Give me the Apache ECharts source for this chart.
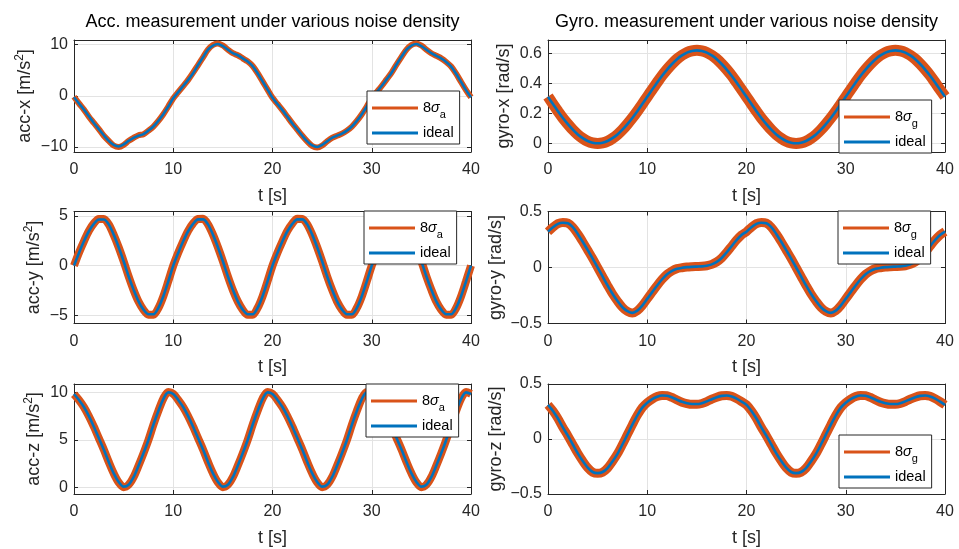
<!DOCTYPE html>
<html>
<head>
<meta charset="utf-8">
<script src="https://cdn.jsdelivr.net/npm/echarts@6/dist/echarts.min.js"></script>
<style>html,body{margin:0;padding:0;background:#fff}#c{width:959px;height:549px}</style>
</head>
<body>
<div id="c"></div>
<script>
// ---------- data ----------
const time = [0,0.5,1,1.5,2,2.5,3,3.5,4,4.5,5,5.5,6,6.5,7,7.5,8,8.5,9,9.5,10,10.5,11,11.5,12,12.5,13,13.5,14,14.5,15,15.5,16,16.5,17,17.5,18,18.5,19,19.5,20,20.5,21,21.5,22,22.5,23,23.5,24,24.5,25,25.5,26,26.5,27,27.5,28,28.5,29,29.5,30,30.5,31,31.5,32,32.5,33,33.5,34,34.5,35,35.5,36,36.5,37,37.5,38,38.5,39,39.5,40];

const accXIdeal = [-0.3,-1.5,-2.7,-4.0,-5.3,-6.5,-7.7,-8.8,-9.6,-9.9,-9.5,-8.8,-8.2,-7.8,-7.5,-6.8,-6.0,-4.9,-3.6,-2.1,-0.5,0.7,1.9,3.1,4.4,6.0,7.5,9.0,9.8,10.1,9.7,9.0,8.3,7.9,7.3,6.7,5.8,4.4,2.8,1.2,-0.4,
 -1.6,-2.8,-4.1,-5.4,-6.6,-7.8,-8.9,-9.7,-10.0,-9.6,-8.9,-8.2,-7.8,-7.4,-6.8,-6.0,-4.9,-3.6,-2.1,-0.5,0.7,1.9,3.2,4.5,6.1,7.6,9.0,9.8,10.1,9.7,9.0,8.3,7.8,7.3,6.6,5.7,4.3,2.7,1.1,-0.3];
const accXNoisy = [-0.2,-1.5,-2.7,-4.1,-5.3,-6.5,-7.8,-8.8,-9.7,-10.0,-9.6,-8.8,-8.2,-7.7,-7.5,-6.8,-6.0,-4.9,-3.6,-2.1,-0.5,0.7,1.9,3.1,4.5,6.0,7.5,9.0,9.9,10.2,9.8,9.0,8.3,7.9,7.3,6.7,5.8,4.4,2.8,1.2,-0.4,
 -1.6,-2.8,-4.1,-5.4,-6.6,-7.8,-8.9,-9.8,-10.1,-9.7,-8.9,-8.2,-7.8,-7.4,-6.8,-6.0,-4.9,-3.6,-2.1,-0.5,0.7,1.9,3.2,4.5,6.1,7.6,9.0,9.9,10.2,9.8,9.0,8.3,7.8,7.3,6.6,5.7,4.3,2.7,1.1,-0.3];

const accYIdeal = [0,1.28,2.45,3.46,4.2,4.65,4.65,4.15,3.12,1.85,0.44,-1.07,-2.42,-3.6,-4.43,-4.9,-4.9,-4.26,-3.09,-1.58,0,
 1.28,2.45,3.46,4.2,4.66,4.66,4.15,3.12,1.85,0.44,-1.07,-2.42,-3.6,-4.43,-4.9,-4.9,-4.26,-3.09,-1.58,0,
 1.28,2.45,3.46,4.2,4.66,4.66,4.15,3.12,1.85,0.44,-1.07,-2.42,-3.6,-4.43,-4.9,-4.9,-4.26,-3.09,-1.58,0,
 1.28,2.45,3.46,4.2,4.65,4.65,4.15,3.12,1.85,0.44,-1.07,-2.42,-3.6,-4.43,-4.9,-4.9,-4.26,-3.09,-1.58,0];
const accYNoisy = [0,1.3,2.45,3.5,4.25,4.7,4.7,4.15,3.1,1.85,0.44,-1.07,-2.45,-3.62,-4.45,-4.95,-4.95,-4.28,-3.09,-1.58,0,
 1.3,2.45,3.5,4.25,4.7,4.72,4.15,3.12,1.85,0.44,-1.07,-2.45,-3.6,-4.45,-4.95,-4.95,-4.26,-3.09,-1.58,0,
 1.3,2.45,3.5,4.25,4.72,4.7,4.15,3.12,1.85,0.44,-1.07,-2.42,-3.6,-4.45,-4.95,-4.95,-4.26,-3.09,-1.58,0,
 1.3,2.45,3.5,4.25,4.7,4.7,4.15,3.12,1.85,0.44,-1.07,-2.42,-3.62,-4.45,-4.95,-4.95,-4.28,-3.09,-1.58,0];

const accZIdeal = [9.83,9.2,8.46,7.5,6.4,5.2,4.0,2.7,1.5,0.6,0.1,0.3,1.1,2.3,3.6,5.0,6.6,8.05,9.3,10.0,9.83,
 9.2,8.46,7.5,6.4,5.2,4.0,2.7,1.5,0.6,0.1,0.3,1.1,2.3,3.6,5.0,6.6,8.05,9.3,10.0,9.83,
 9.2,8.46,7.5,6.4,5.2,4.0,2.7,1.5,0.6,0.1,0.3,1.1,2.3,3.6,5.0,6.6,8.05,9.3,10.0,9.83,
 9.2,8.46,7.5,6.4,5.2,4.0,2.7,1.5,0.6,0.1,0.3,1.1,2.3,3.6,5.0,6.6,8.05,9.3,10.0,9.83];
const accZNoisy = [9.8,9.2,8.45,7.5,6.4,5.2,4.0,2.7,1.5,0.55,0.05,0.3,1.1,2.3,3.6,5.0,6.6,8.05,9.35,10.05,9.85,
 9.2,8.45,7.5,6.4,5.2,4.0,2.7,1.5,0.55,0.05,0.3,1.1,2.3,3.6,5.0,6.6,8.05,9.35,10.05,9.85,
 9.2,8.45,7.5,6.4,5.2,4.0,2.7,1.5,0.55,0.05,0.3,1.1,2.3,3.6,5.0,6.6,8.05,9.35,10.05,9.85,
 9.2,8.45,7.5,6.4,5.2,4.0,2.7,1.5,0.55,0.05,0.3,1.1,2.3,3.6,5.0,6.6,8.05,9.35,10.05,9.85];

const gyroXIdeal = [0.31,0.262,0.214,0.169,0.128,0.091,0.059,0.034,0.015,0.004,0,0.004,0.015,0.034,0.059,0.091,0.128,0.169,0.214,0.262,0.31,0.358,0.406,0.451,0.492,0.529,0.561,0.586,0.605,0.616,0.62,0.616,0.605,0.586,0.561,0.529,0.492,0.451,0.406,0.358,0.31,
 0.262,0.214,0.169,0.128,0.091,0.059,0.034,0.015,0.004,0,0.004,0.015,0.034,0.059,0.091,0.128,0.169,0.214,0.262,0.31,0.358,0.406,0.451,0.492,0.529,0.561,0.586,0.605,0.616,0.62,0.616,0.605,0.586,0.561,0.529,0.492,0.451,0.406,0.358,0.31];
const gyroXNoisy = [0.312,0.262,0.214,0.168,0.128,0.09,0.058,0.033,0.014,0.003,-0.001,0.003,0.014,0.033,0.058,0.09,0.128,0.169,0.214,0.262,0.31,0.358,0.406,0.452,0.493,0.53,0.562,0.587,0.606,0.617,0.621,0.617,0.606,0.587,0.562,0.53,0.493,0.452,0.406,0.358,0.31,
 0.262,0.214,0.168,0.128,0.09,0.058,0.033,0.014,0.003,-0.001,0.003,0.014,0.033,0.058,0.09,0.128,0.169,0.214,0.262,0.31,0.358,0.406,0.452,0.493,0.53,0.562,0.587,0.606,0.617,0.621,0.617,0.606,0.587,0.562,0.53,0.493,0.452,0.406,0.358,0.312];

const gyroYIdeal = [0.32,0.36,0.39,0.40,0.395,0.36,0.30,0.23,0.155,0.08,0.0,-0.08,-0.16,-0.235,-0.30,-0.355,-0.39,-0.405,-0.385,-0.34,-0.28,-0.22,-0.16,-0.105,-0.06,-0.03,-0.012,-0.003,0.003,0.006,0.008,0.01,0.015,0.028,0.05,0.085,0.135,0.19,0.245,0.29,0.32,
 0.36,0.39,0.40,0.395,0.36,0.30,0.23,0.155,0.08,0.0,-0.08,-0.16,-0.235,-0.30,-0.355,-0.39,-0.405,-0.385,-0.34,-0.28,-0.22,-0.16,-0.105,-0.06,-0.03,-0.012,-0.003,0.003,0.006,0.008,0.01,0.015,0.028,0.05,0.085,0.135,0.19,0.245,0.29,0.32];
const gyroYNoisy = [0.32,0.36,0.392,0.402,0.396,0.36,0.30,0.23,0.155,0.08,0.0,-0.08,-0.16,-0.236,-0.30,-0.356,-0.392,-0.407,-0.386,-0.34,-0.28,-0.22,-0.16,-0.105,-0.06,-0.03,-0.01,-0.002,0.004,0.007,0.009,0.011,0.016,0.028,0.05,0.085,0.135,0.19,0.245,0.29,0.32,
 0.36,0.392,0.402,0.396,0.36,0.30,0.23,0.155,0.08,0.0,-0.08,-0.16,-0.236,-0.30,-0.356,-0.392,-0.407,-0.386,-0.34,-0.28,-0.22,-0.16,-0.105,-0.06,-0.03,-0.01,-0.002,0.004,0.007,0.009,0.011,0.016,0.028,0.05,0.085,0.135,0.19,0.245,0.29,0.32];

const gyroZIdeal = [0.31,0.255,0.186,0.105,0.03,-0.05,-0.13,-0.2,-0.26,-0.3,-0.31,-0.3,-0.264,-0.204,-0.135,-0.05,0.04,0.13,0.215,0.285,0.33,0.363,0.385,0.395,0.393,0.378,0.357,0.338,0.325,0.318,0.318,0.326,0.342,0.362,0.38,0.392,0.395,0.387,0.367,0.34,0.31,
 0.255,0.186,0.105,0.03,-0.05,-0.13,-0.2,-0.26,-0.3,-0.31,-0.3,-0.264,-0.204,-0.135,-0.05,0.04,0.13,0.215,0.285,0.33,0.363,0.385,0.395,0.393,0.378,0.357,0.338,0.325,0.318,0.318,0.326,0.342,0.362,0.38,0.392,0.395,0.387,0.367,0.34,0.31];
const gyroZNoisy = [0.31,0.255,0.186,0.105,0.03,-0.05,-0.13,-0.2,-0.262,-0.302,-0.312,-0.302,-0.265,-0.204,-0.135,-0.05,0.04,0.13,0.215,0.285,0.33,0.363,0.386,0.396,0.394,0.378,0.355,0.335,0.322,0.315,0.315,0.323,0.34,0.362,0.38,0.393,0.396,0.388,0.367,0.34,0.31,
 0.255,0.186,0.105,0.03,-0.05,-0.13,-0.2,-0.262,-0.302,-0.312,-0.302,-0.265,-0.204,-0.135,-0.05,0.04,0.13,0.215,0.285,0.33,0.363,0.386,0.396,0.394,0.378,0.355,0.335,0.322,0.315,0.315,0.323,0.34,0.362,0.38,0.393,0.396,0.388,0.367,0.34,0.31];

const xTicks = [0,10,20,30,40];
const accXTicks = [-10,0,10];
const accYTicks = [-5,0,5];
const accZTicks = [0,5,10];
const gyroXTicks = [0,0.2,0.4,0.6];
const gyroYTicks = [-0.5,0,0.5];
const gyroZTicks = [-0.5,0,0.5];

const titles = ['Acc. measurement under various noise density', 'Gyro. measurement under various noise density'];
const yNames = ['acc-x [m/s{sup|2}]','gyro-x [rad/s]','acc-y [m/s{sup|2}]','gyro-y [rad/s]','acc-z [m/s{sup|2}]','gyro-z [rad/s]'];
const xName = 't [s]';
const legendLabels = {acc8: '8{s|σ}{b|a}', accIdeal: 'ideal', gyro8: '8{s|σ}{b|g}', gyroIdeal: 'ideal'};

// ---------- layout / styles ----------
const FONT = '"Liberation Sans", Arial, Helvetica, sans-serif';
const AX = '#262626';
const ORANGE = '#D95319';
const BLUE = '#0072BD';
const GRIDC = '#e3e3e3';

const plots = [
  {left:74,  top:40,    ymin:-10.97, ymax:10.88, ticks:accXTicks,  ideal:accXIdeal,  noisy:accXNoisy,  nw:6,  kind:'acc',  gap:33, lg:[367,91]},
  {left:548, top:40,    ymin:-0.058, ymax:0.689, ticks:gyroXTicks, ideal:gyroXIdeal, noisy:gyroXNoisy, nw:11, kind:'gyro', gap:34, lg:[839,100]},
  {left:74,  top:211.5, ymin:-5.83,  ymax:5.45,  ticks:accYTicks,  ideal:accYIdeal,  noisy:accYNoisy,  nw:8,  kind:'acc',  gap:25, lg:[364,211]},
  {left:548, top:211.5, ymin:-0.5,   ymax:0.5,   ticks:gyroYTicks, ideal:gyroYIdeal, noisy:gyroYNoisy, nw:9,  kind:'gyro', gap:37, lg:[838,211]},
  {left:74,  top:384,   ymin:-0.67,  ymax:10.88, ticks:accZTicks,  ideal:accZIdeal,  noisy:accZNoisy,  nw:8,  kind:'acc',  gap:30, lg:[366,384]},
  {left:548, top:384,   ymin:-0.5,   ymax:0.5,   ticks:gyroZTicks, ideal:gyroZIdeal, noisy:gyroZNoisy, nw:9,  kind:'gyro', gap:37, lg:[839,435]}
];
const W = 397, H = 112;

const fmtNum = v => String(v).replace('-', '\u2212');
const grid = [], xAxis = [], yAxis = [], series = [], legend = [];

plots.forEach((p, i) => {
  grid.push({left:p.left, top:p.top, width:W, height:H, show:false});
  const lineStyle = {color:AX, width:1};
  xAxis.push({gridIndex:i, type:'value', min:0, max:40, interval:10, position:'bottom',
    name:xName, nameLocation:'middle', nameGap:34,
    nameTextStyle:{fontSize:18, fontFamily:FONT, color:AX, lineHeight:20},
    axisLine:{show:true, onZero:false, lineStyle},
    axisTick:{show:true, inside:true, length:4, lineStyle},
    axisLabel:{show:true, margin:10, fontSize:16, fontFamily:FONT, color:AX, formatter:fmtNum, showMinLabel:true, showMaxLabel:true},
    splitLine:{show:true, lineStyle:{color:GRIDC, width:1}}
  });
  xAxis.push({gridIndex:i, type:'value', min:0, max:40, interval:10, position:'top',
    axisLine:{show:true, onZero:false, lineStyle},
    axisTick:{show:true, inside:true, length:4, lineStyle},
    axisLabel:{show:false}, splitLine:{show:false}
  });
  yAxis.push({gridIndex:i, type:'value', min:p.ymin, max:p.ymax, position:'left',
    name:yNames[i], nameLocation:'middle', nameGap:p.gap,
    nameTextStyle:{fontSize:18, fontFamily:FONT, color:AX, lineHeight:20,
      rich:{sup:{fontSize:12, fontFamily:FONT, color:AX, lineHeight:20, padding:[0,0,11,0]}}},
    axisLine:{show:true, onZero:false, lineStyle},
    axisTick:{show:true, inside:true, length:4, lineStyle, customValues:p.ticks},
    axisLabel:{show:true, margin:6, fontSize:16, fontFamily:FONT, color:AX, formatter:fmtNum, customValues:p.ticks},
    splitLine:{show:true, lineStyle:{color:GRIDC, width:1}}
  });
  yAxis.push({gridIndex:i, type:'value', min:p.ymin, max:p.ymax, position:'right',
    axisLine:{show:true, onZero:false, lineStyle},
    axisTick:{show:true, inside:true, length:4, lineStyle, customValues:p.ticks},
    axisLabel:{show:false, customValues:p.ticks}, splitLine:{show:false}
  });
  const nName = p.kind + '8', iName = p.kind + 'Ideal';
  series.push({type:'line', name:nName, xAxisIndex:2*i, yAxisIndex:2*i, showSymbol:false, symbol:'none',
    smooth:0.3, data:time.map((t, k) => [t, p.noisy[k]]), lineStyle:{color:ORANGE, width:p.nw}, itemStyle:{color:ORANGE}, z:2});
  series.push({type:'line', name:iName, xAxisIndex:2*i, yAxisIndex:2*i, showSymbol:false, symbol:'none',
    smooth:0.3, data:time.map((t, k) => [t, p.ideal[k]]), lineStyle:{color:BLUE, width:2.6}, itemStyle:{color:BLUE}, z:3});
  legend.push({orient:'vertical', left:p.lg[0], top:p.lg[1], data:[nName, iName],
    icon:'rect', itemWidth:46, itemHeight:3, itemGap:4.5, padding:[5,6,2.5,5],
    backgroundColor:'#fff', borderColor:AX, borderWidth:1, borderRadius:0,
    itemStyle:{borderWidth:0}, selectedMode:false, z:10,
    formatter: n => legendLabels[n],
    textStyle:{fontSize:14.5, fontFamily:FONT, color:'#000', lineHeight:17,
      rich:{s:{fontSize:14.5, fontFamily:FONT, fontStyle:'italic', color:'#000', lineHeight:17},
            b:{fontSize:11, fontFamily:FONT, color:'#000', lineHeight:17, padding:[13,0,0,0]}}}
  });
});

const option = {
  animation:false,
  backgroundColor:'#fff',
  title:[
    {text:titles[0], left:272.5, top:13, textAlign:'center', padding:0, textStyle:{fontSize:18, fontWeight:'normal', fontFamily:FONT, color:'#000'}},
    {text:titles[1], left:746.5, top:13, textAlign:'center', padding:0, textStyle:{fontSize:18, fontWeight:'normal', fontFamily:FONT, color:'#000'}}
  ],
  grid, xAxis, yAxis, series, legend,
  tooltip:{show:false}
};
const chart = echarts.init(document.getElementById('c'), null, {renderer:'canvas'});
chart.setOption(option);
</script>
</body>
</html>
